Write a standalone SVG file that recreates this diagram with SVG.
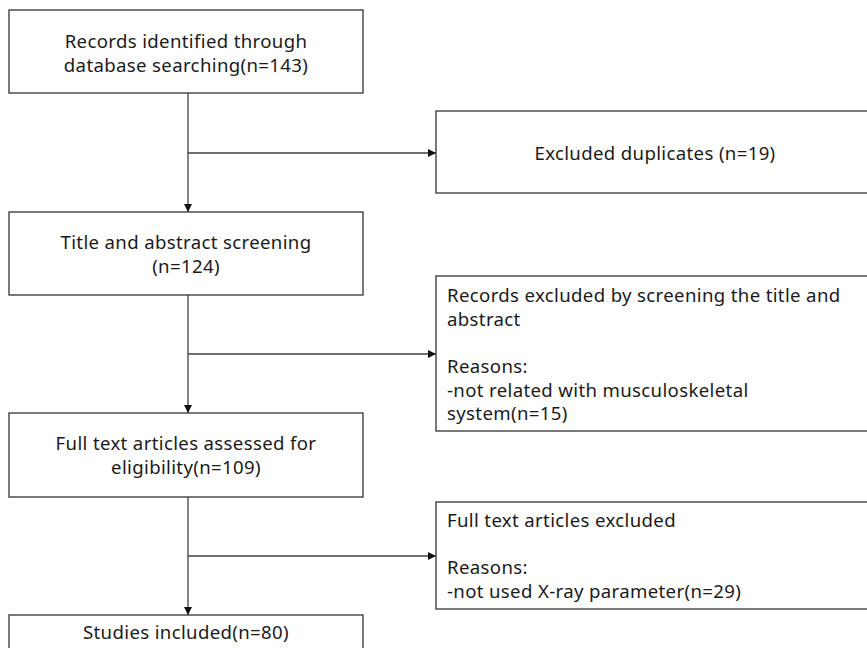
<svg xmlns="http://www.w3.org/2000/svg" width="867" height="648" viewBox="0 0 867 648">
<defs>
<style>
.box{fill:#ffffff;stroke:#333333;stroke-width:1.3}
.t{font-family:"Noto Sans","Liberation Sans",sans-serif;font-size:18.6px;letter-spacing:0.35px;fill:#1a1a1a}
.c{text-anchor:middle}
.ln{fill:none;stroke:#404040;stroke-width:1.3}
</style>
<marker id="ah" viewBox="0 0 10 10" refX="10" refY="5" markerWidth="8" markerHeight="8" markerUnits="userSpaceOnUse" orient="auto">
<path d="M0,0 L10,5 L0,10 Z" fill="#111111"/>
</marker>
</defs>
<rect width="867" height="648" fill="#ffffff"/>
<g id="connectors">
<line class="ln" x1="188" y1="93" x2="188" y2="212" marker-end="url(#ah)"/>
<line class="ln" x1="188" y1="153" x2="436" y2="153" marker-end="url(#ah)"/>
<line class="ln" x1="188" y1="295" x2="188" y2="413" marker-end="url(#ah)"/>
<line class="ln" x1="188" y1="354" x2="436" y2="354" marker-end="url(#ah)"/>
<line class="ln" x1="188" y1="497" x2="188" y2="615" marker-end="url(#ah)"/>
<line class="ln" x1="188" y1="556" x2="436" y2="556" marker-end="url(#ah)"/>
</g>
<g id="n1">
<rect class="box" x="9" y="10" width="354" height="83"/>
<text class="t c" x="186" y="48">Records identified through</text>
<text class="t c" x="186" y="72">database searching(n=143)</text>
</g>
<g id="n2">
<rect class="box" x="436" y="111" width="450" height="82"/>
<text class="t c" x="655" y="160">Excluded duplicates (n=19)</text>
</g>
<g id="n3">
<rect class="box" x="9" y="212" width="354" height="83"/>
<text class="t c" x="186" y="249">Title and abstract screening</text>
<text class="t c" x="186" y="273">(n=124)</text>
</g>
<g id="n4">
<rect class="box" x="436" y="276" width="450" height="155"/>
<text class="t" x="447" y="302">Records excluded by screening the title and</text>
<text class="t" x="447" y="325.5">abstract</text>
<text class="t" x="447" y="373">Reasons:</text>
<text class="t" x="447" y="396.5">-not related with musculoskeletal</text>
<text class="t" x="447" y="420">system(n=15)</text>
</g>
<g id="n5">
<rect class="box" x="9" y="413" width="354" height="84"/>
<text class="t c" x="186" y="450">Full text articles assessed for</text>
<text class="t c" x="186" y="474">eligibility(n=109)</text>
</g>
<g id="n6">
<rect class="box" x="436" y="502" width="450" height="107"/>
<text class="t" x="447" y="527">Full text articles excluded</text>
<text class="t" x="447" y="574">Reasons:</text>
<text class="t" x="447" y="597.5">-not used X-ray parameter(n=29)</text>
</g>
<g id="n7">
<rect class="box" x="9" y="615" width="354" height="60"/>
<text class="t c" x="186" y="639">Studies included(n=80)</text>
</g>
</svg>
